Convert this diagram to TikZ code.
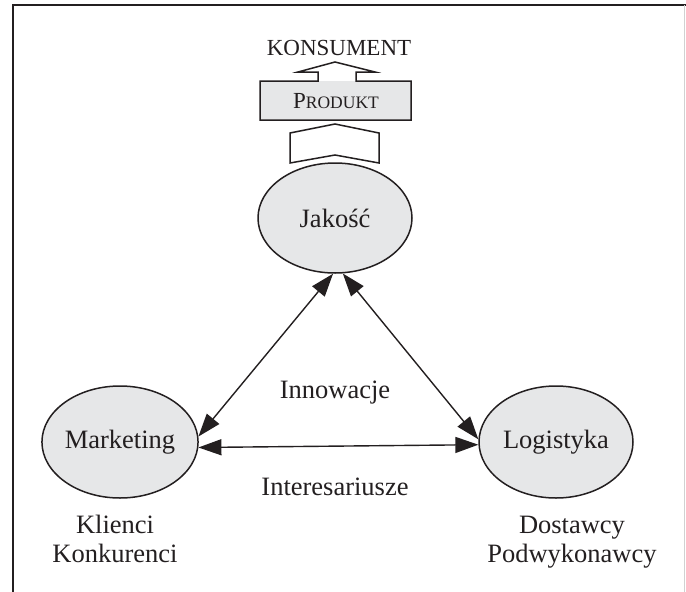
\documentclass[tikz,border=0pt]{standalone}
\usepackage{fontspec}
\setmainfont{Liberation Serif}
\usetikzlibrary{shapes.geometric,arrows.meta}
\definecolor{fillgray}{RGB}{230,231,232}
\definecolor{inkgray}{RGB}{35,31,32}
\tikzset{
  lbl/.style={text=inkgray, font=\fontsize{26.5}{29}\selectfont, inner sep=0pt, align=center},
  oval/.style={ellipse, draw=inkgray, line width=1.5pt, fill=fillgray, inner sep=0pt,
               text=inkgray, font=\fontsize{26.5}{29}\selectfont},
  dbl/.style={draw=inkgray, line width=1.4pt,
              {Triangle[length=23pt,width=16pt]}-{Triangle[length=23pt,width=16pt]}},
  outl/.style={draw=inkgray, line width=1.5pt, line join=miter}
}
\begin{document}
\begin{tikzpicture}[x=1pt,y=-1pt]
\useasboundingbox (0,0) rectangle (686,592);

% frame
\draw[inkgray, line width=1.6pt] (13,592) -- (13,5) -- (686,5);
\draw[black!18, line width=1pt] (684,5) -- (684,592);

% product box with the arrow towards the consumer
\fill[fillgray] (260,81) rectangle (411,120);
\draw[outl] (260,81) -- (318,81) -- (318,72) -- (298,72) -- (335,62) -- (375,72)
  -- (356,72) -- (356,81) -- (411,81) -- (411,120) -- (260,120) -- cycle;
\node[lbl] (produkt) at (336,101) {{\fontsize{23}{23}\selectfont P}{\fontsize{17.5}{17.5}\selectfont RODUKT}};
\node[lbl, font=\fontsize{23}{23}\selectfont] (konsument) at (339,48) {KONSUMENT};

% chevron from quality to product
\draw[outl, fill=white] (290,133) -- (335,124) -- (379,133) -- (379,163)
  -- (335,155) -- (290,163) -- cycle;

% the three areas
\node[oval, minimum width=154pt, minimum height=110pt] (jak) at (335,218) {Jakość};
\node[oval, minimum width=152pt, minimum height=112pt] (mkt) at (120,442) {Marketing};
\node[oval, minimum width=154pt, minimum height=112pt] (log) at (556,442) {Logistyka};

% relations
\draw[dbl] (jak.268) -- (mkt.4);
\draw[dbl] (jak.278) -- (log.178);
\draw[dbl] (mkt.-4) -- (log.182);

% labels
\node[lbl] (innow) at (335,393) {Innowacje};
\node[lbl] (inter) at (335,487) {Interesariusze};
\node[lbl] (klienci) at (115,539) {Klienci\\Konkurenci};
\node[lbl] (dostawcy) at (572,542) {Dostawcy\\Podwykonawcy};
\end{tikzpicture}
\end{document}
